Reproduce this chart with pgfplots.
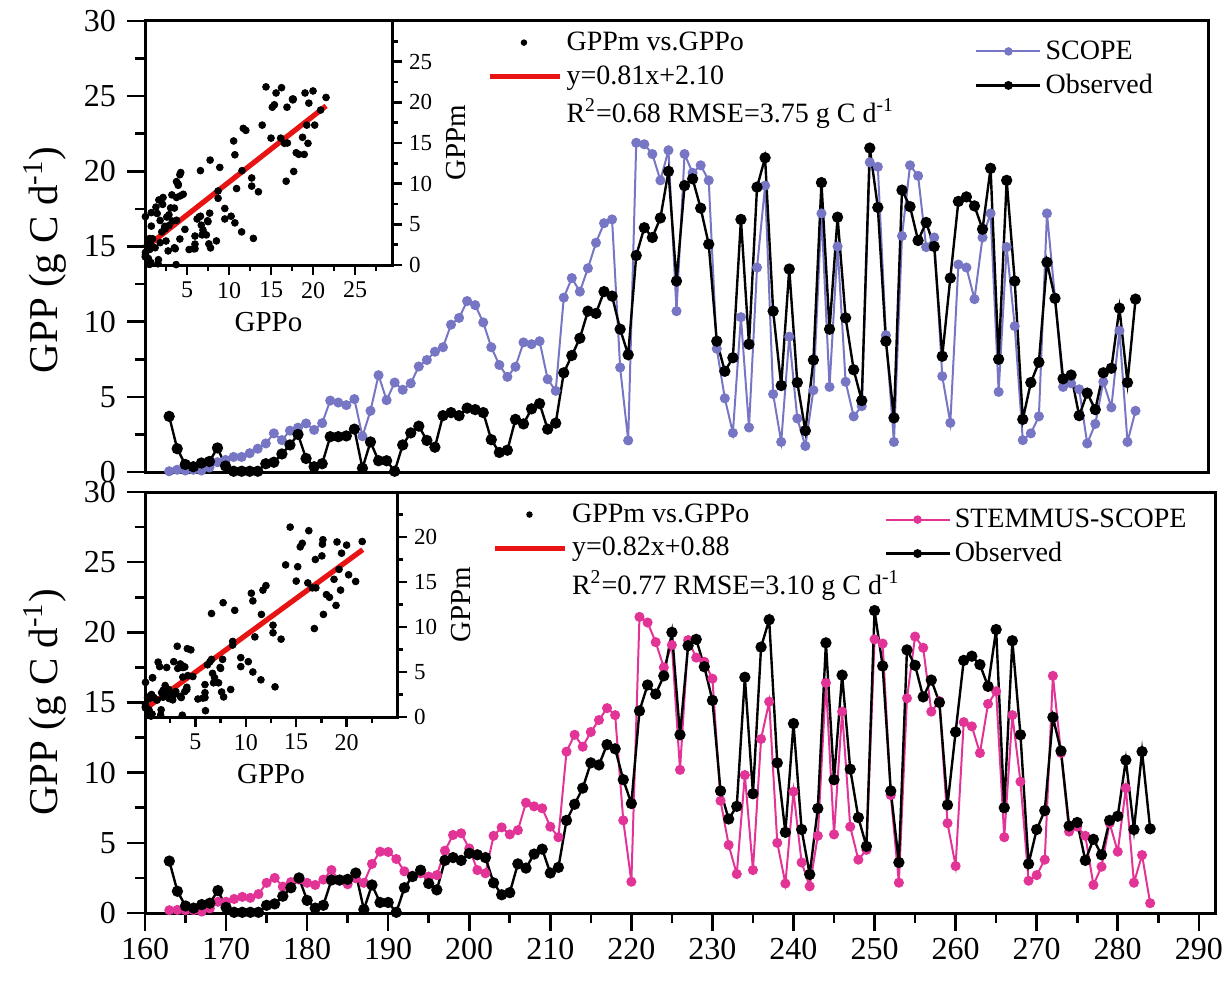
\documentclass[border=0pt]{standalone}
\usepackage{pgfplots}
\usepackage{pgfplotstable}
\usepackage{fontspec}
\setmainfont{Liberation Serif}
\pgfplotsset{compat=1.18}

\definecolor{scopeblue}{RGB}{118,118,196}
\definecolor{stemmuspink}{RGB}{226,52,150}
\definecolor{fitred}{RGB}{232,20,20}

% Daily GPP (g C d^-1): observed, SCOPE and STEMMUS-SCOPE
\pgfplotstableread{
day obs scope stemmus
163 3.70 0.05 0.20
164 1.55 0.15 0.22
165 0.50 0.10 0.20
166 0.35 0.15 0.20
167 0.60 0.10 0.10
168 0.70 0.30 0.33
169 1.60 0.65 0.80
170 0.40 0.80 0.80
171 0.05 1.00 1.00
172 0.05 1.00 1.15
173 0.05 1.25 1.08
174 0.05 1.55 1.35
175 0.55 1.90 2.15
176 0.65 2.57 2.50
177 1.20 2.12 1.88
178 1.80 2.75 2.20
179 2.50 2.95 2.38
180 0.90 3.23 2.15
181 0.35 2.80 2.00
182 0.55 3.25 2.38
183 2.35 4.75 3.06
184 2.35 4.62 2.30
185 2.40 4.45 2.05
186 2.85 4.85 2.47
187 0.25 2.38 2.15
188 2.00 4.07 3.50
189 0.75 6.44 4.37
190 0.75 4.78 4.35
191 0.05 5.95 3.85
192 1.80 5.47 2.97
193 2.60 5.90 2.65
194 3.05 7.02 2.83
195 2.10 7.45 2.60
196 1.65 8.00 2.70
197 3.75 8.30 4.44
198 3.95 9.80 5.56
199 3.75 10.25 5.68
200 4.25 11.37 4.60
201 4.15 11.10 3.06
202 3.95 9.95 2.83
203 2.15 8.30 5.50
204 1.30 7.12 6.10
205 1.45 6.33 5.60
206 3.50 7.00 5.90
207 3.20 8.62 7.86
208 4.20 8.50 7.60
209 4.55 8.70 7.46
210 2.85 6.17 6.15
211 3.25 5.40 5.40
212 6.60 11.60 11.50
213 7.75 12.90 12.70
214 8.90 12.00 11.85
215 10.70 13.55 12.90
216 10.55 15.25 13.75
217 12.00 16.55 14.60
218 11.70 16.80 14.10
219 9.50 6.95 6.60
220 7.80 2.10 2.23
221 14.40 21.90 21.10
222 16.25 21.80 20.70
223 15.60 21.15 19.30
224 16.90 19.40 17.50
225 20.00 21.40 19.10
226 12.70 10.70 10.20
227 19.05 21.15 19.45
228 19.50 19.90 18.20
229 17.55 20.40 17.90
230 15.15 19.40 16.70
231 8.70 8.20 8.00
232 6.70 4.90 4.85
233 7.60 2.60 2.78
234 16.80 10.30 9.83
235 8.50 2.96 3.06
236 18.95 13.60 12.40
237 20.90 19.05 15.06
238 10.70 5.18 5.00
239 5.75 2.00 2.10
240 13.50 9.00 8.65
241 5.95 3.56 3.60
242 2.75 1.73 1.90
243 7.45 5.44 5.50
244 19.25 17.20 16.40
245 9.50 5.66 5.60
246 16.95 15.00 14.35
247 10.25 6.00 6.15
248 6.80 3.70 3.80
249 4.75 4.38 4.50
250 21.55 20.60 19.50
251 17.60 20.30 19.20
252 8.70 9.10 8.40
253 3.60 2.00 2.16
254 18.75 15.70 15.30
255 17.65 20.40 19.70
256 15.40 19.70 18.90
257 16.60 14.96 14.35
258 15.00 15.60 15.10
259 7.70 6.37 6.40
260 12.90 3.27 3.35
261 18.00 13.80 13.60
262 18.30 13.60 13.30
263 17.70 11.50 11.40
264 16.15 15.60 14.90
265 20.20 17.20 15.80
266 7.50 5.33 5.40
267 19.40 14.96 14.10
268 12.70 9.70 9.36
269 3.50 2.12 2.30
270 5.95 2.57 2.70
271 7.30 3.70 3.80
272 13.95 17.20 16.90
273 11.55 11.60 11.40
274 6.20 5.66 5.80
275 6.45 5.90 6.15
276 3.75 5.50 5.50
277 5.25 1.90 2.00
278 4.15 3.20 3.30
279 6.60 6.00 6.40
280 6.90 4.30 4.37
281 10.90 9.40 8.90
282 5.95 2.00 2.16
283 11.50 4.07 4.13
284 6.00 nan 0.70
}\gpp

\pgfplotsset{
  gppmain/.style={
    anchor=south west, scale only axis,
    xmin=160, xmax=292, ymin=0, ymax=30,
    ytick={0,5,...,30}, minor ytick={2.5,7.5,...,27.5},
    ytick pos=left, tick align=outside,
    major tick length=9pt, minor tick length=5pt,
    every tick/.style={black, line width=1.3pt},
    axis line style={line width=1.5pt},
    tick label style={font=\fontsize{16}{16}\selectfont},
    /pgf/number format/assume math mode=true,
    yticklabel style={xshift=-2pt},
    ylabel style={font=\fontsize{20.5}{20.5}\selectfont, anchor=center},
    legend style={draw=none, fill=none, font=\fontsize{14}{16}\selectfont,
      row sep=2pt, cells={anchor=west}},
    legend image code/.code={\draw[mark repeat=2,mark phase=2,##1]
      plot coordinates {(0pt,0pt) (16pt,0pt) (32pt,0pt)};},
    legend image post style={mark size=1.6pt},
  },
  gppinset/.style={
    anchor=south west, scale only axis, xmin=0, ymin=0,
    axis background/.style={fill=white},
    xtick pos=bottom, ytick pos=right, yticklabel pos=right,
    tick align=outside, major tick length=5pt, minor tick length=3pt,
    every tick/.style={black, line width=1.2pt},
    axis line style={line width=1.5pt},
    x tick label style={font=\fontsize{12}{12}\selectfont},
    y tick label style={font=\fontsize{11.5}{11.5}\selectfont},
    /pgf/number format/assume math mode=true,
    xlabel=GPPo, ylabel=GPPm,
    label style={font=\fontsize{14.5}{14.5}\selectfont},
    legend style={draw=none, fill=none, font=\fontsize{14}{16}\selectfont,
      row sep=2pt, cells={anchor=west}},
  },
  dot legend/.style={legend image code/.code={\fill (17pt,0pt) circle (1.4pt);}},
  fit legend/.style={legend image code/.code={\draw[##1] (0pt,0pt) -- (35pt,0pt);}},
}

\begin{document}
\begin{tikzpicture}
\useasboundingbox (0pt,0pt) rectangle (615pt,493.5pt);

% ---------- upper panel: SCOPE ----------
\begin{axis}[gppmain,
  at={(72.5pt,257.5pt)}, width=531.5pt, height=225.5pt,
  xtick=\empty,
  ylabel={GPP (g C d\textsuperscript{-1})},
  ylabel style={at={(rel axis cs:-0.094,0.47)}},
  legend style={at={(rel axis cs:0.775,0.975)}, anchor=north west},
]
\addplot[scopeblue, line width=1pt, mark=*, mark size=2pt]
  table[x=day, y=scope] {\gpp};
\addlegendentry{SCOPE}
\addplot[black, line width=1.2pt, mark=*, mark size=2.2pt,
  skip coords between index={121}{122}]
  table[x=day, y=obs] {\gpp};
\addlegendentry{Observed}
\end{axis}

\begin{axis}[gppinset,
  at={(72.5pt,361pt)}, width=123.5pt, height=122pt,
  xmax=29.4, ymax=30,
  xtick={5,10,...,25}, minor xtick={2.5,7.5,...,27.5},
  ytick={0,5,...,25}, minor ytick={2.5,7.5,...,27.5},
  legend style={at={(axis description cs:1.36,0.99)}, anchor=north west},
]
\addplot[only marks, mark=*, mark size=1.7pt, black, dot legend,
  skip coords between index={121}{122}]
  table[x=obs, y=scope] {\gpp};
\addlegendentry{GPPm vs.GPPo}
\addplot[fitred, line width=2.6pt, fit legend]
  coordinates {(0,2.10) (21.55,19.56)};
\addlegendentry{y=0.81x+2.10}
\addlegendimage{empty legend}
\addlegendentry{R\textsuperscript{2}=0.68 RMSE=3.75 g C d\textsuperscript{-1}}
\end{axis}

% ---------- lower panel: STEMMUS-SCOPE ----------
\begin{axis}[gppmain,
  at={(72.5pt,37pt)}, width=535pt, height=210.5pt,
  xtick={160,170,...,290}, minor xtick={165,175,...,285},
  xtick pos=bottom,
  ylabel={GPP (g C d\textsuperscript{-1})},
  ylabel style={at={(rel axis cs:-0.0935,0.5)}},
  legend style={at={(rel axis cs:0.685,0.98)}, anchor=north west},
]
\addplot[stemmuspink, line width=1pt, mark=*, mark size=2pt]
  table[x=day, y=stemmus] {\gpp};
\addlegendentry{STEMMUS-SCOPE}
\addplot[black, line width=1.2pt, mark=*, mark size=2.2pt]
  table[x=day, y=obs] {\gpp};
\addlegendentry{Observed}
\end{axis}

\begin{axis}[gppinset,
  at={(72.5pt,135pt)}, width=126pt, height=112.5pt,
  xmax=25, ymax=25,
  xtick={5,10,...,20}, minor xtick={2.5,7.5,...,22.5},
  ytick={0,5,...,20}, minor ytick={2.5,7.5,...,22.5},
  legend style={at={(axis description cs:1.355,0.985)}, anchor=north west},
]
\addplot[only marks, mark=*, mark size=1.7pt, black, dot legend]
  table[x=obs, y=stemmus] {\gpp};
\addlegendentry{GPPm vs.GPPo}
\addplot[fitred, line width=2.6pt, fit legend]
  coordinates {(0,0.88) (21.6,18.59)};
\addlegendentry{y=0.82x+0.88}
\addlegendimage{empty legend}
\addlegendentry{R\textsuperscript{2}=0.77 RMSE=3.10 g C d\textsuperscript{-1}}
\end{axis}
\end{tikzpicture}
\end{document}
